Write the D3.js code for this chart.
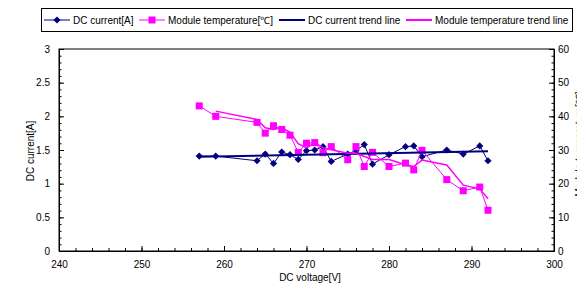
<!DOCTYPE html>
<html>
<head>
<meta charset="utf-8">
<script src="https://cdn.jsdelivr.net/npm/d3@7"></script>
<style>
  body { margin: 0; background: #fff; }
  svg { font-family: "Liberation Sans", Arial, sans-serif; }
</style>
</head>
<body>
<svg width="577" height="287"></svg>
<script>
// data
var voltage = [257, 259, 264, 265, 266, 267, 268, 269, 270, 271, 272, 273, 275, 276, 277, 278, 280, 282, 283, 284, 287, 289, 291, 292];
var current = [1.41, 1.41, 1.34, 1.44, 1.30, 1.47, 1.43, 1.36, 1.49, 1.50, 1.55, 1.33, 1.44, 1.49, 1.58, 1.29, 1.43, 1.55, 1.56, 1.40, 1.50, 1.44, 1.56, 1.34];
var temperature = [43.1, 40.0, 38.2, 35.0, 37.2, 36.1, 34.4, 29.3, 32.0, 32.2, 29.2, 31.0, 27.1, 31.0, 25.1, 29.3, 25.1, 26.1, 24.1, 29.9, 21.2, 17.9, 19.0, 12.1];
var xTicks = [240, 250, 260, 270, 280, 290, 300];
var yLeftTicks = [0, 0.5, 1, 1.5, 2, 2.5, 3];
var yRightTicks = [0, 10, 20, 30, 40, 50, 60];
var legendLabels = ["DC current[A]", "Module temperature[\u2103]", "DC current trend line", "Module temperature trend line"];

var navy = "#000080", pink = "#ff00ff";

var svg = d3.select("svg");
var pLeft = 59, pRight = 554, pTop = 49, pBottom = 251;

var x = d3.scaleLinear().domain([240, 300]).range([pLeft, pRight]);
var yL = d3.scaleLinear().domain([0, 3]).range([pBottom, pTop]);
var yR = d3.scaleLinear().domain([0, 60]).range([pBottom, pTop]);

var pts = voltage.map(function(v, i) { return {v: v, i: current[i], t: temperature[i]}; });

// linear trend for current
var mx = d3.mean(pts, d => d.v), my = d3.mean(pts, d => d.i);
var slope = d3.sum(pts, d => (d.v - mx) * (d.i - my)) / d3.sum(pts, d => (d.v - mx) * (d.v - mx));
var icpt = my - slope * mx;
var trendI = [voltage[0], voltage[voltage.length - 1]].map(v => ({v: v, i: icpt + slope * v}));

// 2 period moving average for temperature
var trendT = pts.slice(1).map(function(d, k) { return {v: d.v, t: (pts[k].t + d.t) / 2}; });

// frame
svg.append("rect").attr("x", pLeft).attr("y", pTop).attr("width", pRight - pLeft).attr("height", pBottom - pTop)
  .attr("fill", "none").attr("stroke", "#000").attr("stroke-width", 1);

function styleAxis(g) {
  g.select(".domain").attr("stroke", "#000");
  g.selectAll(".tick line").attr("stroke", "#000");
  g.selectAll("text").attr("font-size", 10).attr("fill", "#000").attr("font-family", "Liberation Sans, Arial, sans-serif");
}

// minor ticks
svg.append("g").attr("transform", "translate(0," + pBottom + ")")
  .call(d3.axisBottom(x).tickValues(d3.range(240, 301, 2)).tickSize(-3).tickFormat(""))
  .call(styleAxis);
svg.append("g").attr("transform", "translate(" + pLeft + ",0)")
  .call(d3.axisLeft(yL).tickValues(d3.range(0, 31).map(d => d / 10)).tickSize(-2.5).tickFormat(""))
  .call(styleAxis);
svg.append("g").attr("transform", "translate(" + pRight + ",0)")
  .call(d3.axisRight(yR).tickValues(d3.range(0, 61, 2)).tickSize(-2.5).tickFormat(""))
  .call(styleAxis);

// major ticks
svg.append("g").attr("transform", "translate(0," + pBottom + ")")
  .call(d3.axisBottom(x).tickValues(xTicks).tickSize(-5).tickPadding(10).tickFormat(d3.format("d")))
  .call(styleAxis);
svg.append("g").attr("transform", "translate(" + pLeft + ",0)")
  .call(d3.axisLeft(yL).tickValues(yLeftTicks).tickSize(-5).tickPadding(9).tickFormat(d => String(d)))
  .call(styleAxis);
svg.append("g").attr("transform", "translate(" + pRight + ",0)")
  .call(d3.axisRight(yR).tickValues(yRightTicks).tickSize(-5).tickPadding(4).tickFormat(d3.format("d")))
  .call(styleAxis);

// axis titles
svg.append("text").attr("x", 310).attr("y", 281).attr("text-anchor", "middle")
  .attr("font-size", 10).text("DC voltage[V]");
svg.append("text").attr("transform", "translate(34,151) rotate(-90)").attr("text-anchor", "middle")
  .attr("font-size", 10).text("DC current[A]");
svg.append("text").attr("transform", "translate(583,144) rotate(-90)").attr("text-anchor", "middle")
  .attr("font-size", 10).text("Module temperature[\u2103]");

// series
var lineI = d3.line().x(d => x(d.v)).y(d => yL(d.i));
var lineT = d3.line().x(d => x(d.v)).y(d => yR(d.t));

var diamond = "M0,-3.6L3.6,0L0,3.6L-3.6,0Z";

svg.append("path").datum(pts).attr("d", lineI).attr("fill", "none").attr("stroke", navy).attr("stroke-width", 1);
svg.append("g").selectAll("path").data(pts).enter().append("path")
  .attr("d", diamond).attr("transform", d => "translate(" + x(d.v) + "," + yL(d.i) + ")").attr("fill", navy);

svg.append("path").datum(pts).attr("d", lineT).attr("fill", "none").attr("stroke", pink).attr("stroke-width", 1);
svg.append("g").selectAll("rect").data(pts).enter().append("rect")
  .attr("x", d => x(d.v) - 3.5).attr("y", d => yR(d.t) - 3.5).attr("width", 7).attr("height", 7).attr("fill", pink);

svg.append("path").datum(trendI).attr("d", lineI).attr("fill", "none").attr("stroke", navy).attr("stroke-width", 2);
svg.append("path").datum(trendT).attr("d", lineT).attr("fill", "none").attr("stroke", pink).attr("stroke-width", 1.5);

// legend
var lg = svg.append("g");
lg.append("rect").attr("x", 41.5).attr("y", 8.5).attr("width", 531).attr("height", 23)
  .attr("fill", "#fff").attr("stroke", "#000");
var legX = [44, 139, 279, 406];
legendLabels.forEach(function(lab, k) {
  var g = lg.append("g").attr("transform", "translate(" + legX[k] + ",20)");
  var col = (k % 2 === 0) ? navy : pink;
  g.append("line").attr("x1", 0).attr("x2", 26).attr("stroke", col).attr("stroke-width", k < 2 ? 1 : 2);
  if (k === 0) g.append("path").attr("d", diamond).attr("transform", "translate(13,0)").attr("fill", navy);
  if (k === 1) g.append("rect").attr("x", 9.5).attr("y", -3.5).attr("width", 7).attr("height", 7).attr("fill", pink);
  g.append("text").attr("x", 29).attr("y", 3.5).attr("font-size", 10).text(lab);
});
</script>
</body>
</html>
